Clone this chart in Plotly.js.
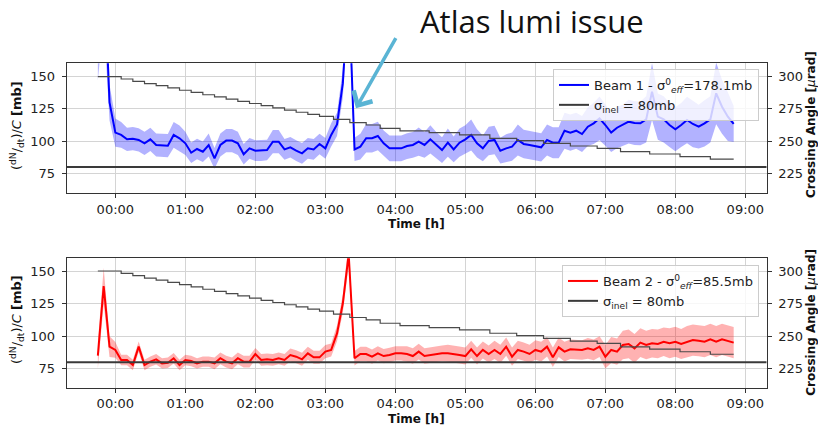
<!DOCTYPE html>
<html>
<head>
<meta charset="utf-8">
<script src="https://cdn.plot.ly/plotly-3.0.1.min.js"></script>
<style>html,body{margin:0;padding:0;background:#fff;}#chart{width:818px;height:426px;}</style>
</head>
<body>
<div id="chart"></div>
<script>
// ---- data (minutes since 00:00) ----
const timeMin = [-15,-10,-5,0,5,10,15,20,25,30,35,40,45,50,55,60,65,70,75,80,85,90,95,100,105,110,115,120,125,130,135,140,145,150,155,160,165,170,175,180,185,190,195,200,205,210,215,220,225,230,235,240,245,250,255,260,265,270,275,280,285,290,295,300,305,310,315,320,325,330,335,340,345,350,355,360,365,370,375,380,385,390,395,400,405,410,415,420,425,430,435,440,445,450,455,460,465,470,475,480,485,490,495,500,505,510,515,520,525,530];

const beam1 = [185,240,130,106.6,104.8,101.4,101.9,100.9,98.3,101.4,
  97,96.5,96.5,104.8,102.2,98.3,91,93.9,91.8,97,
  86.6,97,100.4,100.4,98.3,89.8,94.4,92.6,92.6,93.1,
  99.6,99.6,93.6,95.2,92.6,90.5,94.4,93.6,97.8,94.4,
  104.8,113,145,220,93.6,95.7,102.2,102.2,104,98.3,
  94.4,94.4,94.4,96.2,97,99.6,97,101.4,97,93.1,
  98.8,93.6,98.8,101.4,104.8,98.3,94.4,100.1,100.9,92.6,
  94.4,95.7,100.9,97.8,97,96.2,95.2,100.9,98.8,98.8,
  108.1,106.6,108.1,105.5,111.2,113.8,117.7,112.5,106.6,110.4,
  112.5,115.1,114,113.8,116.9,138.4,119,116.9,112.5,109.2,
  112.5,116.4,113.3,111.2,113.8,116.9,137.1,126.7,119,113.3];

const beam1Err = [38,45,14,11,10,9,9,9,9,9,
  9,9,9,10,10,9,8,8,8,9,
  8,9,9,9,9,8,8,8,8,8,
  9,9,8,8,8,8,8,8,8,8,
  9,9,11,15,9,10,11,11,11,10,
  10,10,10,10,10,11,10,11,10,10,
  11,10,11,11,12,11,10,11,11,10,
  11,11,12,11,11,11,11,12,12,12,
  14,14,14,14,15,16,17,16,15,16,
  16,17,17,17,18,22,18,18,17,17,
  17,18,18,17,18,18,24,21,19,14];

const beam2 = [85,138.5,91.9,89.4,81.7,81.7,77.8,91.9,77.8,80.4,
  82.2,79.1,79.6,83,77.8,81.7,80.9,79.1,80.4,80.4,
  79.1,83,80.4,79.1,83,80.4,80.4,86.3,81.7,82.2,
  81.7,83,81.7,85.5,84.2,82.2,86.8,83.7,83.7,88.1,
  89.4,102.1,125.2,163,83,86.3,86.3,84.2,86.8,84.7,
  85.5,86.8,86.8,86.3,84.7,88.1,84.7,85.5,86.3,86.8,
  86.8,86.3,85.5,84.7,89.9,84.7,89.4,86.3,89.4,86.3,
  91.9,84.2,89.4,88.1,86.3,89.4,88.1,91.9,83.7,91.4,
  88.1,89.9,89.4,89.4,90.6,89.4,91.9,84.2,89.4,88.1,
  93.2,94,90.6,95,93.2,94.5,94,95.7,94.5,95.7,
  94,95.7,97,96.5,95.7,97.5,95.7,97.5,96.5,95];

const beam2Err = [10,14,8,6,4,4,4,4,4,4,
  4,4,4,4,4,4,4,4,4,4,
  4.5,4.5,4.5,4.5,4.5,4.5,4.5,4.5,4.5,4.5,
  4.5,4.5,4.5,5,5,5,5,5,5,5,
  5,6,7,9,5.5,5.5,5.5,5.5,5.5,5.5,
  5.5,5.5,5.5,6,6,6,6,6,6,6,
  6.5,6.5,6.5,6.5,6.5,6.5,6.5,6.5,7,7,
  7,7,7,7,7,7.5,7.5,7.5,7.5,7.5,
  7.5,7.5,7.5,7.5,8,8,8,9,10,10,
  11,11,11,11,11,11,11,11,11.5,11.5,
  11.5,12,12,12,12,12,12,12,12,12];

const caTime  = [-15,5,15,25,35,45,55,65,75,85,95,105,115,125,135,145,155,165,175,187,201,215,227,244,269,295,321,344,367,390,413,433,458,484,510,530];
const caAngle = [300,298.2,296.4,294.6,293,291.3,289.5,287.8,286,284.3,282.6,280.9,279.2,277.5,275.8,274.1,272.4,270.8,269.2,266.9,264.3,262.5,259.9,258,256.6,254.8,252.2,250.4,248.3,246.2,244.4,241.8,240,238,236.1,236.1];

const sigmaInel = 80;
const tickMin    = [0,60,120,180,240,300,360,420,480,540];
const tickLabels = ['00:00','01:00','02:00','03:00','04:00','05:00','06:00','07:00','08:00','09:00'];
const leftTicks  = [75,100,125,150];
const rightTicks = [225,250,275,300];
const beam1Name = 'Beam 1 - σ<sup>0</sup><sub><i>eff</i></sub>=178.1mb';
const beam2Name = 'Beam 2 - σ<sup>0</sup><sub><i>eff</i></sub>=85.5mb';
const inelName  = 'σ<sub>inel</sub> = 80mb';

// ---- geometry ----
const W = 818, H = 426;
const xRange = [-41.7, 558.3];
const xDom = [66.7/W, 766.7/W];
const topDom = [1-193.3/H, 1-63.3/H];
const botDom = [1-387.7/H, 1-258.3/H];

const lo = (v,e) => v.map((d,i)=>d-e[i]);
const hi = (v,e) => v.map((d,i)=>d+e[i]);

function panel(xa, ya, ya2, vals, errs, color, fill, name, leg){
  return [
    {x:timeMin, y:lo(vals,errs), xaxis:xa, yaxis:ya, mode:'lines', line:{width:0,color:fill}, showlegend:false, hoverinfo:'skip'},
    {x:timeMin, y:hi(vals,errs), xaxis:xa, yaxis:ya, mode:'lines', line:{width:0,color:fill}, fill:'tonexty', fillcolor:fill, showlegend:false, hoverinfo:'skip'},
    {x:timeMin, y:vals, xaxis:xa, yaxis:ya, mode:'lines', line:{color:color,width:2}, name:name, legend:leg},
    {x:xRange, y:[sigmaInel,sigmaInel], xaxis:xa, yaxis:ya, mode:'lines', line:{color:'#3a3a3a',width:2}, name:inelName, legend:leg},
    {x:caTime, y:caAngle, xaxis:xa, yaxis:ya2, mode:'lines', line:{color:'#4a4a4a',width:1.2,shape:'hv'}, showlegend:false}
  ];
}

const data = [].concat(
  panel('x','y','y2', beam1, beam1Err, '#0000ff', 'rgba(0,0,255,0.3)', beam1Name, 'legend'),
  panel('x2','y3','y4', beam2, beam2Err, '#ff0000', 'rgba(255,0,0,0.3)', beam2Name, 'legend2')
);

const axBase = {showline:true, linecolor:'#333', linewidth:1, ticks:'outside', ticklen:4, tickcolor:'#333',
  tickfont:{size:13,color:'#222'}, zeroline:false, gridcolor:'#d4d4d4', gridwidth:1};

const xa = (anchor) => Object.assign({}, axBase, {domain:xDom, anchor:anchor, range:xRange, tickmode:'array',
  tickvals:tickMin, ticktext:tickLabels, mirror:true, showgrid:true});
const yl = (dom, anchor, range) => Object.assign({}, axBase, {domain:dom, anchor:anchor, range:range, tickmode:'array',
  tickvals:leftTicks, mirror:true, showgrid:true, ticklabelstandoff:4});
const yr = (over, anchor, range) => Object.assign({}, axBase, {overlaying:over, side:'right', anchor:anchor, range:range,
  tickmode:'array', tickvals:rightTicks, showline:false, showgrid:false, ticklabelstandoff:4});

const legBase = {xanchor:'right', yanchor:'top', bgcolor:'rgba(255,255,255,0.8)', bordercolor:'#cccccc', borderwidth:1,
  font:{size:13,color:'#222'}, itemwidth:30, tracegroupgap:0, traceorder:'normal'};

const yTitle = '(<sup>dN</sup>/<sub>dt</sub>)/<i>C</i> <b>[mb]</b>';
const rTitle = '<b>Crossing Angle [</b><i>μ</i><b>rad]</b>';

const ann = (x,y,text,opt) => Object.assign({xref:'paper', yref:'paper', x:x/W, y:1-y/H, text:text, showarrow:false,
  xanchor:'center', yanchor:'middle', font:{size:12,color:'#111'}}, opt||{});

const layout = {
  width:W, height:H, margin:{l:0,r:0,t:0,b:0}, paper_bgcolor:'#fff', plot_bgcolor:'#fff',
  font:{family:'DejaVu Sans', size:13, color:'#222'},
  showlegend:true,
  xaxis: xa('y'),
  yaxis: yl(topDom, 'x', [59.5,160.4]),
  yaxis2: yr('y', 'x', [209.5,310.4]),
  xaxis2: xa('y3'),
  yaxis3: yl(botDom, 'x2', [60.4,159.75]),
  yaxis4: yr('y3', 'x2', [210.4,309.75]),
  legend: Object.assign({}, legBase, {x:759/W, y:1-69/H}),
  legend2: Object.assign({}, legBase, {x:759/W, y:1-265/H}),
  annotations: [
    ann(531.7, 21.3, 'Atlas lumi issue', {font:{family:'Open Sans', size:31, color:'#111'}}),
    {xref:'paper', yref:'paper', x:356/W, y:1-108.3/H, ax:40.7, ay:-71.6, text:'', showarrow:true,
      arrowhead:4, arrowsize:1.2, arrowwidth:3.5, arrowcolor:'#5ab4d4', standoff:0},
    ann(17, 126, yTitle, {textangle:-90, font:{size:13,color:'#111'}}),
    ann(17, 320, yTitle, {textangle:-90, font:{size:13,color:'#111'}}),
    ann(811, 125, rTitle, {textangle:-90}),
    ann(811, 322.7, rTitle, {textangle:-90}),
    ann(416.7, 224, '<b>Time [h]</b>'),
    ann(416.7, 418.5, '<b>Time [h]</b>')
  ]
};

Plotly.newPlot('chart', data, layout, {displayModeBar:false, staticPlot:true});
</script>
</body>
</html>
